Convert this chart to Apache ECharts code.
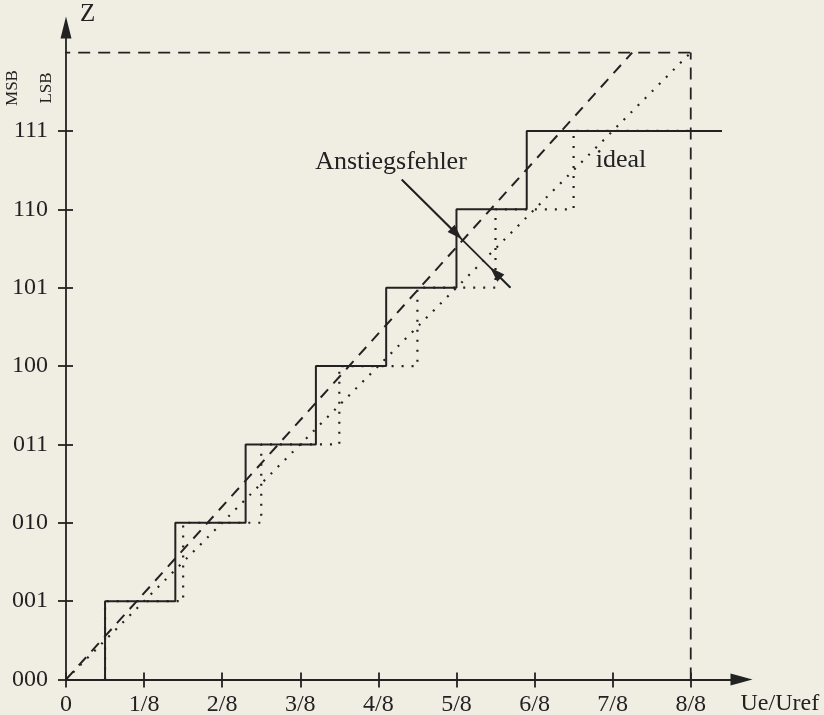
<!DOCTYPE html>
<html><head><meta charset="utf-8">
<script src="https://cdn.jsdelivr.net/npm/echarts@6/dist/echarts.min.js"></script>
<style>html,body{margin:0;padding:0;background:#f0ede3}#c{width:824px;height:715px}</style>
</head><body><div id="c"></div>
<script>
// ---- data (x in units of Uref/8, y = output code Z) ----
const xTickValues = [0, 1, 2, 3, 4, 5, 6, 7, 8];
const xTickLabels = ['0', '1/8', '2/8', '3/8', '4/8', '5/8', '6/8', '7/8', '8/8'];
const yTickValues = [0, 1, 2, 3, 4, 5, 6, 7];
const yTickLabels = ['000', '001', '010', '011', '100', '101', '110', '111'];
// transition points of the real converter (with gain error) and of the ideal one
const actualTransitions = [0.5, 1.4, 2.3, 3.2, 4.1, 5.0, 5.9];
const actualEndX = 8.4;
const idealTransitions = [0.5, 1.5, 2.5, 3.5, 4.5, 5.5, 6.5];
const idealEndX = 8;
// straight characteristic lines
const actualLine = [[0, 0], [7.25, 8]];
const idealLine = [[0, 0], [8, 8]];
// full-scale reference lines
const fullScaleH = [[-0.1, 8], [8, 8]];
const fullScaleV = [[8, 0], [8, 8]];
// "Anstiegsfehler" dimension arrow
const errorArrowLine = [[4.30, 6.38], [5.69, 5.0]];
const errorArrowTips = [[5.0, 5.69], [5.5, 5.19]];

const xMax = 8.65, yMax = 8.32;
const ink = '#222222';
const serif = 'Liberation Serif';

function stairs(trans, endX) {
  const pts = [];
  trans.forEach(function (t, i) { pts.push([t, i]); pts.push([t, i + 1]); });
  pts.push([endX, trans.length]);
  return pts;
}

const chart = echarts.init(document.getElementById('c'), null, {renderer: 'canvas'});

function xAxisBase(extra) {
  return Object.assign({
    type: 'value', min: 0, max: xMax, position: 'bottom',
    splitLine: {show: false}, minorTick: {show: false}
  }, extra);
}
function yAxisBase(extra) {
  return Object.assign({
    type: 'value', min: 0, max: yMax, position: 'left',
    splitLine: {show: false}, minorTick: {show: false}
  }, extra);
}

const option = {
  backgroundColor: '#f0ede3',
  animation: false,
  grid: {left: 66, right: 82.5, top: 27.5, bottom: 35.5, containLabel: false, outerBoundsMode: 'none'},
  xAxis: [
    xAxisBase({
      axisLine: {onZero: false, lineStyle: {color: ink, width: 1.8}, symbol: ['none', 'triangle'], symbolSize: [12, 22]},
      axisTick: {show: true, inside: false, length: 8, customValues: xTickValues, lineStyle: {color: ink, width: 1.8}},
      axisLabel: {customValues: xTickValues, margin: 13, color: ink, fontFamily: serif, fontSize: 24,
        formatter: function (v) { return xTickLabels[Math.round(v)]; }},
      name: 'Ue/Uref', nameLocation: 'end', nameGap: -1,
      nameTextStyle: {color: ink, fontFamily: serif, fontSize: 24, align: 'left', verticalAlign: 'top', padding: [12, 0, 0, 0]}
    }),
    xAxisBase({
      axisLine: {show: false},
      axisTick: {show: true, inside: true, length: 7, customValues: xTickValues, lineStyle: {color: ink, width: 1.8}},
      axisLabel: {show: false}
    })
  ],
  yAxis: [
    yAxisBase({
      axisLine: {onZero: false, lineStyle: {color: ink, width: 1.8}, symbol: ['none', 'triangle'], symbolSize: [11, 22]},
      axisTick: {show: true, inside: false, length: 8, customValues: yTickValues, lineStyle: {color: ink, width: 1.8}},
      axisLabel: {customValues: yTickValues, margin: 18, color: ink, fontFamily: serif, fontSize: 24,
        formatter: function (v) { return yTickLabels[Math.round(v)]; }}
    }),
    yAxisBase({
      axisLine: {show: false},
      axisTick: {show: true, inside: true, length: 7, customValues: yTickValues, lineStyle: {color: ink, width: 1.8}},
      axisLabel: {show: false}
    })
  ],
  series: [
    {name: 'ideal stairs', type: 'line', data: stairs(idealTransitions, idealEndX), symbol: 'none', clip: false,
      lineStyle: {color: ink, width: 2.2, type: [2, 8]}},
    {name: 'ideal line', type: 'line', data: idealLine, symbol: 'none', clip: false,
      lineStyle: {color: ink, width: 2.2, type: [2, 8]}},
    {name: 'actual line', type: 'line', data: actualLine, symbol: 'none', clip: false,
      lineStyle: {color: ink, width: 2, type: [11, 8]}},
    {name: 'full scale H', type: 'line', data: fullScaleH, symbol: 'none', clip: false,
      lineStyle: {color: ink, width: 1.8, type: [12, 8]}},
    {name: 'full scale V', type: 'line', data: fullScaleV, symbol: 'none', clip: false,
      lineStyle: {color: ink, width: 1.8, type: [12, 8]}},
    {name: 'actual stairs', type: 'line', data: stairs(actualTransitions, actualEndX), symbol: 'none', clip: false,
      lineStyle: {color: ink, width: 2}},
    {name: 'error arrow', type: 'line', data: errorArrowLine, symbol: 'none', clip: false,
      lineStyle: {color: ink, width: 1.8},
      markLine: {silent: true, symbol: ['none', 'triangle'], symbolSize: [10, 15], label: {show: false},
        lineStyle: {color: ink, width: 1.8, type: 'solid'}, emphasis: {disabled: true},
        data: [
          [{coord: errorArrowLine[0]}, {coord: errorArrowTips[0]}],
          [{coord: errorArrowLine[1]}, {coord: errorArrowTips[1]}]
        ]}}
  ],
  graphic: [
    {type: 'text', left: 80, top: 2, style: {text: 'Z', font: '25px "Liberation Serif"', fill: ink}},
    {type: 'text', x: 13, y: 88, rotation: Math.PI / 2,
      style: {text: 'MSB', font: '17px "Liberation Serif"', fill: ink, textAlign: 'center', textVerticalAlign: 'middle'}},
    {type: 'text', x: 47, y: 88, rotation: Math.PI / 2,
      style: {text: 'LSB', font: '17px "Liberation Serif"', fill: ink, textAlign: 'center', textVerticalAlign: 'middle'}},
    {type: 'text', x: 391, y: 162,
      style: {text: 'Anstiegsfehler', font: '26px "Liberation Serif"', fill: ink, textAlign: 'center', textVerticalAlign: 'middle'}},
    {type: 'text', x: 621, y: 160,
      style: {text: 'ideal', font: '26px "Liberation Serif"', fill: ink, textAlign: 'center', textVerticalAlign: 'middle'}}
  ]
};
chart.setOption(option);
</script>
</body></html>
